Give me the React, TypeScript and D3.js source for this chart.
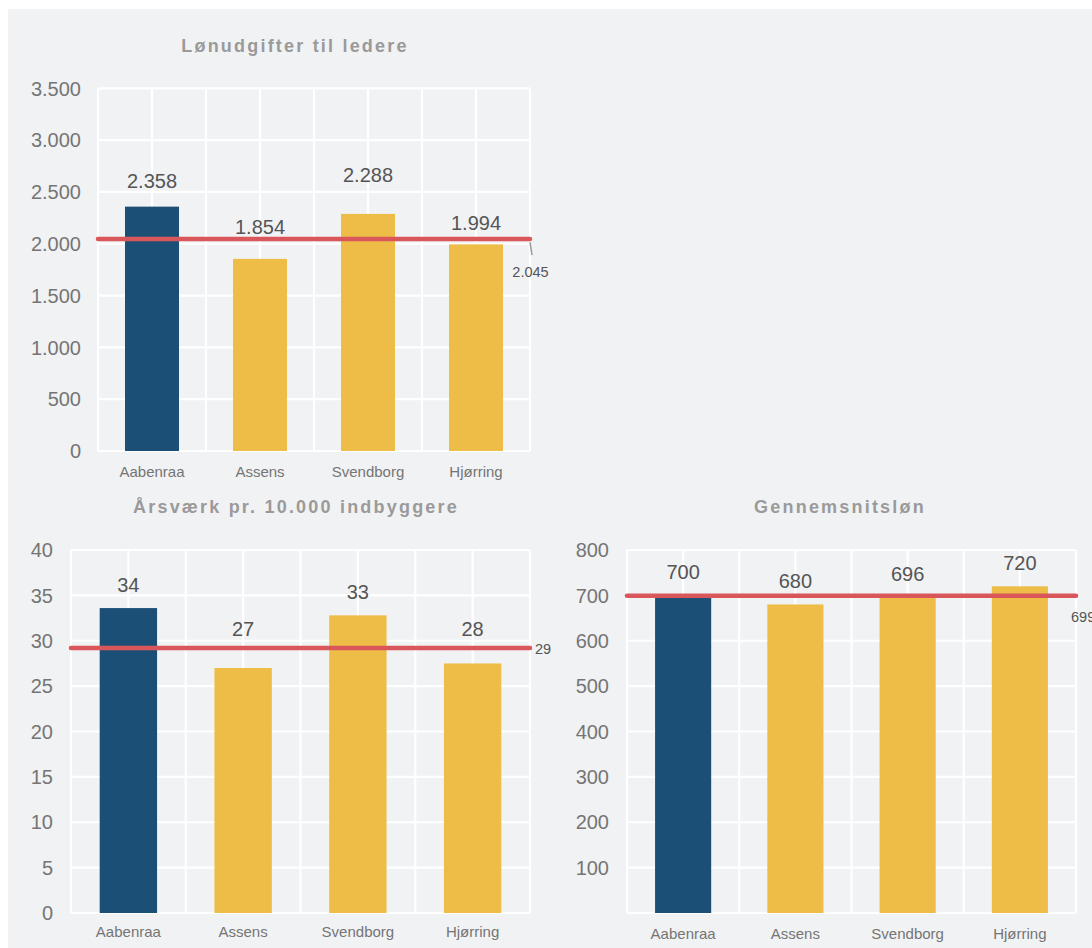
import React from 'react';
import * as d3 from 'd3';

// ---------- data ----------
const municipalities = ['Aabenraa', 'Assens', 'Svendborg', 'Hjørring'];
const highlighted = 'Aabenraa';

const lederTitle = 'Lønudgifter til ledere';
const lederValues = [2358, 1854, 2288, 1994];
const lederAverage = 2045;
const lederTicks = [0, 500, 1000, 1500, 2000, 2500, 3000, 3500];

const aarsvaerkTitle = 'Årsværk pr. 10.000 indbyggere';
const aarsvaerkValues = [33.6, 27.0, 32.8, 27.5];
const aarsvaerkAverage = 29.2;
const aarsvaerkTicks = [0, 5, 10, 15, 20, 25, 30, 35, 40];

const loenTitle = 'Gennemsnitsløn';
const loenValues = [700, 680, 696, 720];
const loenAverage = 699;
const loenTicks = [100, 200, 300, 400, 500, 600, 700, 800];

// ---------- style ----------
const FONT = '"Liberation Sans", Arial, Helvetica, sans-serif';
const PANEL = '#f1f2f4';
const BLUE = '#1c4f75';
const YELLOW = '#eebd48';
const RED = '#d9575b';
const TITLE_COLOR = '#9a9a9a';
const TICK_COLOR = '#757575';
const VALUE_COLOR = '#555555';

const locale = d3.formatLocale({ decimal: ',', thousands: '.', grouping: [3], currency: ['kr. ', ''] });
const fmtInt = locale.format(',.0f');

type Layout = {
  x0: number; x1: number; yTop: number; yBottom: number; max: number;
  titleX: number; titleY: number; tickRight: number; xLabelY: number;
  avgX: number; avgY: number; avgAnchor: 'start' | 'middle' | 'end'; leader: boolean;
  nudges: number[];
};

type ChartProps = {
  title: string; values: number[]; average: number; ticks: number[]; layout: Layout;
};

function BarChart({ title, values, average, ticks, layout: L }: ChartProps) {
  const x = d3.scaleBand<string>().domain(municipalities).range([L.x0, L.x1]).paddingInner(0).paddingOuter(0);
  const y = d3.scaleLinear().domain([0, L.max]).range([L.yBottom, L.yTop]);
  const bw = x.bandwidth();
  const gridX: number[] = [];
  municipalities.forEach((m) => {
    gridX.push(x(m)!);
    gridX.push(x(m)! + bw / 2);
  });
  gridX.push(L.x1);
  const gridY = d3.range(0, L.max + 1e-9, ticks[1] - ticks[0]);
  const lineY = y(average);

  return (
    <g fontFamily={FONT}>
      <text x={L.titleX} y={L.titleY} textAnchor="middle" fontSize={18} fontWeight="bold"
        fill={TITLE_COLOR} letterSpacing={2.2}>{title}</text>
      {gridY.map((v) => (
        <line key={'gy' + v} x1={L.x0} x2={L.x1} y1={y(v)} y2={y(v)} stroke="#ffffff" strokeWidth={2.2} />
      ))}
      {gridX.map((gx, i) => (
        <line key={'gx' + i} x1={gx} x2={gx} y1={L.yTop} y2={L.yBottom} stroke="#ffffff" strokeWidth={2.2} />
      ))}
      {ticks.map((t) => (
        <text key={'t' + t} x={L.tickRight} y={y(t)} dy="0.36em" textAnchor="end" fontSize={20}
          fill={TICK_COLOR}>{fmtInt(t)}</text>
      ))}
      {municipalities.map((m, i) => (
        <rect key={'b' + m} x={x(m)! + bw / 4} width={bw / 2} y={y(values[i])}
          height={L.yBottom - y(values[i])} fill={m === highlighted ? BLUE : YELLOW} />
      ))}
      {municipalities.map((m) => (
        <text key={'xl' + m} x={x(m)! + bw / 2} y={L.xLabelY} textAnchor="middle" fontSize={15}
          fill={TICK_COLOR}>{m}</text>
      ))}
      <line x1={L.x0} x2={L.x1} y1={lineY} y2={lineY} stroke={RED} strokeWidth={4.5} strokeLinecap="round" />
      {municipalities.map((m, i) => {
        let c = y(values[i]) - 23;
        if (c + 8 > lineY - 3 && c - 8 < lineY + 3) c = lineY - 19;
        c += L.nudges[i];
        return (
          <text key={'v' + m} x={x(m)! + bw / 2} y={c + 7} textAnchor="middle" fontSize={20}
            fill={VALUE_COLOR}>{fmtInt(values[i])}</text>
        );
      })}
      {L.leader && (
        <line x1={L.x1} y1={lineY + 3} x2={L.x1 + 2} y2={lineY + 16} stroke="#9a9a9a" strokeWidth={1.5} />
      )}
      <text x={L.avgX} y={L.avgY} textAnchor={L.avgAnchor} fontSize={14.5} fill={VALUE_COLOR}>
        {fmtInt(average)}
      </text>
    </g>
  );
}

const lederLayout: Layout = {
  x0: 98, x1: 530, yTop: 88.3, yBottom: 451, max: 3500,
  titleX: 295, titleY: 52, tickRight: 81, xLabelY: 477,
  avgX: 530.5, avgY: 277, avgAnchor: 'middle', leader: true,
  nudges: [-3, 7, -16, 2],
};
const aarsvaerkLayout: Layout = {
  x0: 71, x1: 530, yTop: 550, yBottom: 913, max: 40,
  titleX: 296, titleY: 513, tickRight: 53, xLabelY: 937,
  avgX: 535, avgY: 654, avgAnchor: 'start', leader: false,
  nudges: [0, 0, 0, 0],
};
const loenLayout: Layout = {
  x0: 627, x1: 1076, yTop: 550, yBottom: 913, max: 800,
  titleX: 840, titleY: 513, tickRight: 609, xLabelY: 938.5,
  avgX: 1071, avgY: 622, avgAnchor: 'start', leader: false,
  nudges: [0, 0, 0, 0],
};

export default function App() {
  return (
    <svg width={1092} height={948} style={{ position: 'absolute', left: 0, top: 0, display: 'block' }}>
      <rect x={0} y={0} width={1092} height={948} fill="#ffffff" />
      <rect x={8} y={9} width={1084} height={939} fill={PANEL} />
      <BarChart title={lederTitle} values={lederValues} average={lederAverage} ticks={lederTicks} layout={lederLayout} />
      <BarChart title={aarsvaerkTitle} values={aarsvaerkValues} average={aarsvaerkAverage} ticks={aarsvaerkTicks} layout={aarsvaerkLayout} />
      <BarChart title={loenTitle} values={loenValues} average={loenAverage} ticks={loenTicks} layout={loenLayout} />
    </svg>
  );
}
